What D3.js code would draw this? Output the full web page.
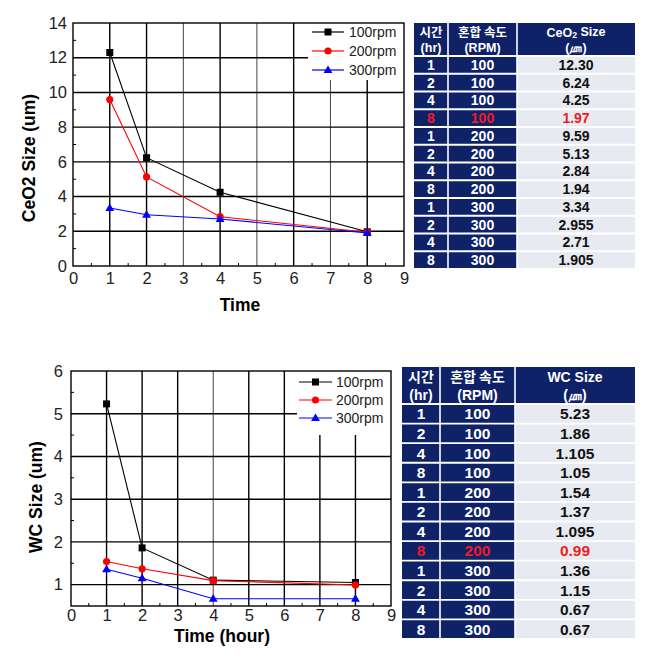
<!DOCTYPE html>
<html><head><meta charset="utf-8">
<script src="https://cdn.jsdelivr.net/npm/d3@7"></script>
<style>
body{margin:0;background:#fff;}
svg{display:block;}
</style></head>
<body>
<svg id="c" width="647" height="660"></svg>
<script>
const times = [1, 2, 4, 8];
const rpms = ["100", "200", "300"];
const ceo2_100 = [12.30, 6.24, 4.25, 1.97];
const ceo2_200 = [9.59, 5.13, 2.84, 1.94];
const ceo2_300 = [3.34, 2.955, 2.71, 1.905];
const wc_100 = [5.23, 1.86, 1.105, 1.05];
const wc_200 = [1.54, 1.37, 1.095, 0.99];
const wc_300 = [1.36, 1.15, 0.67, 0.67];
const ceo2Text = ["12.30","6.24","4.25","1.97","9.59","5.13","2.84","1.94","3.34","2.955","2.71","1.905"];
const wcText = ["5.23","1.86","1.105","1.05","1.54","1.37","1.095","0.99","1.36","1.15","0.67","0.67"];
const xTicks = [0,1,2,3,4,5,6,7,8,9];
const ceo2YTicks = [0,2,4,6,8,10,12,14];
const wcYTicks = [1,2,3,4,5,6];

const colors = ["#000000", "#ff0000", "#0000ff"];
const svg = d3.select("#c");
const FONT = "Arial, 'Liberation Sans', sans-serif";
const KFONT = "'Noto Sans CJK KR', sans-serif";
const NFONT = "'Liberation Sans', Arial, sans-serif";

function chart(o) {
  const x = d3.scaleLinear().domain([0, 9]).range([o.x0, o.x1]);
  const y = d3.scaleLinear().domain(o.ydom).range([o.y1, o.y0]);
  const g = svg.append("g");
  xTicks.filter(t => t > 0 && t < 9).forEach(t => {
    const dark = o.darkX.includes(t);
    g.append("line").attr("x1", x(t)).attr("x2", x(t)).attr("y1", o.y0).attr("y2", o.y1)
      .attr("stroke", dark ? "#000" : "#444").attr("stroke-width", dark ? 1.4 : 1);
  });
  o.gridY.forEach(t => {
    g.append("line").attr("x1", o.x0).attr("x2", o.x1).attr("y1", y(t)).attr("y2", y(t))
      .attr("stroke", "#000").attr("stroke-width", 1.4);
  });
  g.append("rect").attr("x", o.leg.x).attr("y", o.y0).attr("width", o.x1 - o.leg.x).attr("height", o.leg.h)
    .attr("fill", "#fff");
  g.append("rect").attr("x", o.x0).attr("y", o.y0).attr("width", o.x1 - o.x0).attr("height", o.y1 - o.y0)
    .attr("fill", "none").attr("stroke", "#000").attr("stroke-width", 1.4);
  d3.range(0.5, 9, 1).forEach(t => {
    g.append("line").attr("x1", x(t)).attr("x2", x(t)).attr("y1", o.y1).attr("y2", o.y1 - 3).attr("stroke", "#000");
  });
  o.minorY.forEach(t => {
    g.append("line").attr("x1", o.x0).attr("x2", o.x0 + 3).attr("y1", y(t)).attr("y2", y(t)).attr("stroke", "#000");
  });
  const xa = d3.axisBottom(x).tickValues(xTicks).tickSize(0).tickPadding(o.xpad).tickFormat(d3.format("d"));
  const gx = g.append("g").attr("transform", `translate(0,${o.y1})`).call(xa);
  gx.select(".domain").remove();
  gx.selectAll("text").attr("font-family", FONT).attr("font-size", 16.5).attr("fill", "#222");
  const ya = d3.axisLeft(y).tickValues(o.yTicks).tickSize(0).tickPadding(o.ypad).tickFormat(d3.format("d"));
  const gy = g.append("g").attr("transform", `translate(${o.x0},0)`).call(ya);
  gy.select(".domain").remove();
  gy.selectAll("text").attr("font-family", FONT).attr("font-size", 16.5).attr("fill", "#222");
  g.append("text").attr("transform", `translate(${o.ytx},${o.yty}) rotate(-90)`).attr("text-anchor", "middle")
    .attr("font-family", FONT).attr("font-weight", "bold").attr("font-size", 17.5).text(o.ytitle);
  g.append("text").attr("x", o.xtx).attr("y", o.xty).attr("text-anchor", "middle")
    .attr("font-family", FONT).attr("font-weight", "bold").attr("font-size", 17.5).text(o.xtitle);
  const line = d3.line().x((d, i) => x(times[i])).y(d => y(d));
  o.series.forEach((s, k) => {
    g.append("path").attr("d", line(s)).attr("fill", "none").attr("stroke", colors[k]).attr("stroke-width", 1.1);
    s.forEach((v, i) => marker(g, k, x(times[i]), y(v)));
  });
  rpms.forEach((r, k) => {
    const ly = o.leg.y + k * o.leg.dy;
    g.append("line").attr("x1", o.leg.lx).attr("x2", o.leg.lx + o.leg.lw).attr("y1", ly).attr("y2", ly)
      .attr("stroke", colors[k]).attr("stroke-width", 1.2);
    marker(g, k, o.leg.lx + o.leg.lw / 2, ly);
    g.append("text").attr("x", o.leg.tx).attr("y", ly).attr("dy", "0.35em").attr("font-family", FONT)
      .attr("font-size", 14).attr("fill", "#222").text(r + "rpm");
  });
}

function marker(g, k, cx, cy) {
  if (k === 0) g.append("rect").attr("x", cx - 3.5).attr("y", cy - 3.5).attr("width", 7).attr("height", 7).attr("fill", colors[0]);
  else if (k === 1) g.append("circle").attr("cx", cx).attr("cy", cy).attr("r", 3.6).attr("fill", colors[1]);
  else g.append("path").attr("d", d3.symbol(d3.symbolTriangle, 34)()).attr("transform", `translate(${cx},${cy + 0.5})`).attr("fill", colors[2]);
}

chart({
  x0: 73, x1: 404, y0: 23, y1: 266, ydom: [0, 14], yTicks: ceo2YTicks,
  gridY: [2, 4, 6, 8, 10, 12], minorY: [1, 3, 5, 7, 9, 11, 13], darkX: [1, 2, 4, 6, 8],
  xpad: 6, ypad: 6,
  ytitle: "CeO2 Size (um)", ytx: 35, yty: 158, xtitle: "Time", xtx: 240, xty: 311,
  series: [ceo2_100, ceo2_200, ceo2_300],
  leg: { x: 308, h: 57, y: 32, dy: 19, lx: 312, lw: 32, tx: 349 }
});
chart({
  x0: 71, x1: 391, y0: 371, y1: 606, ydom: [0.5, 6], yTicks: wcYTicks,
  gridY: [1, 2, 3, 4, 5], minorY: [1.5, 2.5, 3.5, 4.5, 5.5], darkX: [1, 2, 3, 5, 6, 7, 8],
  xpad: 3, ypad: 8,
  ytitle: "WC Size (um)", ytx: 42, yty: 497, xtitle: "Time (hour)", xtx: 222, xty: 642,
  series: [wc_100, wc_200, wc_300],
  leg: { x: 297, h: 64, y: 382, dy: 18, lx: 299, lw: 33, tx: 336 }
});

const NAVY = "#0f2167", LIGHT = "#e7eaf0", RED = "#ee1c25";
function table(o) {
  const g = svg.append("g");
  const cx = [o.x0, o.c1, o.c2, o.x1];
  const rowY = d3.scaleLinear().domain([0, 12]).range([o.hy1, o.y1]);
  g.append("rect").attr("x", o.x0).attr("y", o.hy0).attr("width", o.x1 - o.x0).attr("height", o.hy1 - o.hy0).attr("fill", NAVY);
  const heads = [["시간", "(hr)"], ["혼합 속도", "(RPM)"], [o.h3a, "(㎛)"]];
  heads.forEach((h, j) => {
    const mx = (cx[j] + cx[j + 1]) / 2;
    h.forEach((t, r) => {
      const korean = /[\uac00-\ud7a3]/.test(t);
      const tx = g.append("text").attr("x", mx).attr("y", o.hy0 + (o.hy1 - o.hy0) * (r === 0 ? 0.28 : 0.76)).attr("dy", "0.35em")
        .attr("text-anchor", "middle").attr("font-family", korean ? KFONT : NFONT).attr("font-weight", "bold")
        .attr("font-size", o.hfs).attr("fill", "#fff");
      if (j === 2 && r === 0 && o.sub) {
        tx.append("tspan").text("CeO");
        tx.append("tspan").attr("font-size", o.hfs * 0.7).attr("dy", "0.2em").text("2");
        tx.append("tspan").attr("dy", "-0.2em").text(" Size");
      } else tx.text(t);
    });
  });
  const rows = [];
  rpms.forEach((r, k) => times.forEach((t, i) => rows.push([String(t), r, o.vals[k * 4 + i]])));
  rows.forEach((row, i) => {
    const y0 = rowY(i), y1 = rowY(i + 1);
    g.append("rect").attr("x", o.x0).attr("y", y0).attr("width", o.c2 - o.x0).attr("height", y1 - y0).attr("fill", NAVY);
    g.append("rect").attr("x", o.c2).attr("y", y0).attr("width", o.x1 - o.c2).attr("height", y1 - y0).attr("fill", LIGHT);
    const hl = i === o.hl;
    row.forEach((t, j) => {
      g.append("text").attr("x", (cx[j] + cx[j + 1]) / 2).attr("y", (y0 + y1) / 2).attr("dy", "0.36em")
        .attr("text-anchor", "middle").attr("font-family", NFONT).attr("font-weight", "bold")
        .attr("font-size", o.fs).attr("fill", hl ? RED : (j < 2 ? "#fff" : "#111")).text(t);
    });
  });
  d3.range(0, 13).forEach(i => {
    g.append("line").attr("x1", o.x0).attr("x2", o.x1).attr("y1", rowY(i)).attr("y2", rowY(i)).attr("stroke", "#fff").attr("stroke-width", 1.8);
  });
  [o.c1, o.c2].forEach(c => g.append("line").attr("x1", c).attr("x2", c).attr("y1", o.hy0).attr("y2", o.y1).attr("stroke", "#fff").attr("stroke-width", 1.6));
}
table({ x0: 414, c1: 448, c2: 517, x1: 635, hy0: 23, hy1: 56, y1: 269, fs: 14, hfs: 12.5, h3a: "CeO₂ Size", sub: true, vals: ceo2Text, hl: 3 });
table({ x0: 402, c1: 440, c2: 515, x1: 635, hy0: 367, hy1: 404, y1: 639, fs: 15.5, hfs: 14, h3a: "WC Size", sub: false, vals: wcText, hl: 7 });
</script>
</body></html>
